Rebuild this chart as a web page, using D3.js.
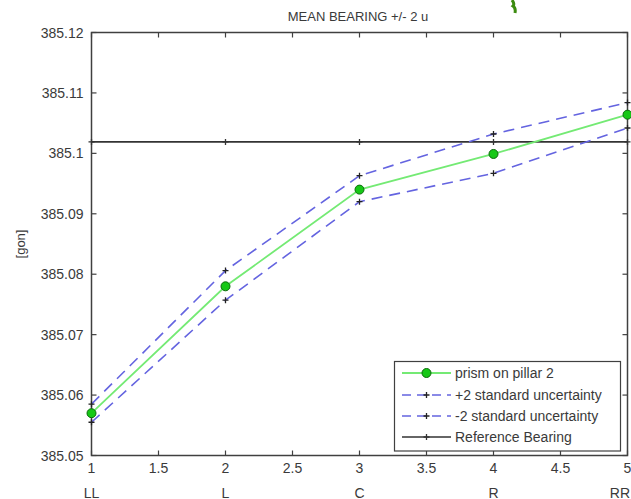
<!DOCTYPE html>
<html lang="en">
<head>
<meta charset="UTF-8">
<title>Mean bearing +/- 2 u</title>
<script src="https://d3js.org/d3.v7.min.js"></script>
<style>
body { margin: 0; background: #fff; }
text { font-family: "Liberation Sans", Arial, sans-serif; fill: #3a3a3a; }
</style>
</head>
<body>
<div id="chart"></div>
<script>
// values
const xs = [1, 2, 3, 4, 5];
const stations = ["LL", "L", "C", "R", "RR"];
const prism = [385.0570, 385.0780, 385.0940, 385.0999, 385.1064];
const upper = [385.0585, 385.0806, 385.0963, 385.1032, 385.1084];
const lower = [385.0555, 385.0757, 385.0920, 385.0967, 385.1042];
const refBearing = 385.1019;
const xTicks = [1, 1.5, 2, 2.5, 3, 3.5, 4, 4.5, 5];
const yTicks = [385.05, 385.06, 385.07, 385.08, 385.09, 385.1, 385.11, 385.12];
const legendLabels = ["prism on pillar 2", "+2 standard uncertainty", "-2 standard uncertainty", "Reference Bearing"];

const width = 631, height = 499;
const m = {left: 91.5, right: 3.5, top: 32.5, bottom: 43.5};

const svg = d3.select("#chart").append("svg")
    .attr("width", width)
    .attr("height", height);

const x = d3.scaleLinear().domain([1, 5]).range([m.left, width - m.right]);
const y = d3.scaleLinear().domain([385.05, 385.12]).range([height - m.bottom, m.top]);

const axisColor = "#404040";
const fmt = v => String(+v.toFixed(2));

// box + inward ticks (matlab style)
const box = svg.append("g");
box.append("rect")
    .attr("x", x(1)).attr("y", y(385.12))
    .attr("width", x(5) - x(1)).attr("height", y(385.05) - y(385.12))
    .attr("fill", "none").attr("stroke", axisColor).attr("stroke-width", 1.5);

xTicks.forEach(t => {
    box.append("line").attr("x1", x(t)).attr("x2", x(t))
        .attr("y1", y(385.05)).attr("y2", y(385.05) - 5)
        .attr("stroke", axisColor).attr("stroke-width", 1.2);
    box.append("line").attr("x1", x(t)).attr("x2", x(t))
        .attr("y1", y(385.12)).attr("y2", y(385.12) + 5)
        .attr("stroke", axisColor).attr("stroke-width", 1.2);
});
yTicks.forEach(t => {
    box.append("line").attr("x1", x(1)).attr("x2", x(1) + 5)
        .attr("y1", y(t)).attr("y2", y(t))
        .attr("stroke", axisColor).attr("stroke-width", 1.2);
    box.append("line").attr("x1", x(5)).attr("x2", x(5) - 5)
        .attr("y1", y(t)).attr("y2", y(t))
        .attr("stroke", axisColor).attr("stroke-width", 1.2);
});

// tick labels
svg.append("g").selectAll("text").data(xTicks).join("text")
    .attr("x", d => x(d)).attr("y", y(385.05) + 17)
    .attr("text-anchor", "middle").attr("font-size", 14)
    .text(fmt);
// station names; the last one is pulled in so it stays on the page
svg.append("g").selectAll("text").data(xs).join("text")
    .attr("x", (d, i) => i === xs.length - 1 ? width - 1 : x(d))
    .attr("y", y(385.05) + 42)
    .attr("text-anchor", (d, i) => i === xs.length - 1 ? "end" : "middle")
    .attr("font-size", 14)
    .text((d, i) => stations[i]);
svg.append("g").selectAll("text").data(yTicks).join("text")
    .attr("x", x(1) - 8).attr("y", d => y(d) + 5)
    .attr("text-anchor", "end").attr("font-size", 14)
    .text(fmt);

svg.append("text")
    .attr("transform", `translate(25,244) rotate(-90)`)
    .attr("text-anchor", "middle").attr("font-size", 13)
    .text("[gon]");

svg.append("text")
    .attr("x", 358).attr("y", 21)
    .attr("text-anchor", "middle").attr("font-size", 13)
    .text("MEAN BEARING +/- 2 u");

// little green scribble at the top edge of the picture
svg.append("path")
    .attr("d", "M512,0 Q515,4 513,6 Q516,8 515,13")
    .attr("fill", "none").attr("stroke", "#3c8c10").attr("stroke-width", 3);

const line = d3.line().x(d => x(d[0])).y(d => y(d[1]));
const plus = (g, px, py, s, col) => {
    g.append("path")
        .attr("d", `M${px - s},${py}H${px + s}M${px},${py - s}V${py + s}`)
        .attr("stroke", col).attr("stroke-width", 1.3);
};

const plot = svg.append("g");

// reference bearing
const refPts = xs.map(v => [v, refBearing]);
plot.append("path").attr("d", line(refPts))
    .attr("fill", "none").attr("stroke", "#333").attr("stroke-width", 1.6);
refPts.forEach(p => plus(plot, x(p[0]), y(p[1]), 3, "#333"));

// uncertainty bands
[upper, lower].forEach(series => {
    const pts = xs.map((v, i) => [v, series[i]]);
    plot.append("path").attr("d", line(pts))
        .attr("fill", "none").attr("stroke", "#6464e0").attr("stroke-width", 1.6)
        .attr("stroke-dasharray", "11,7");
    pts.forEach(p => plus(plot, x(p[0]), y(p[1]), 3, "#222"));
});

// main series
const mainPts = xs.map((v, i) => [v, prism[i]]);
plot.append("path").attr("d", line(mainPts))
    .attr("fill", "none").attr("stroke", "#74ea74").attr("stroke-width", 1.8);
plot.selectAll("circle.pt").data(mainPts).join("circle")
    .attr("class", "pt")
    .attr("cx", d => x(d[0])).attr("cy", d => y(d[1])).attr("r", 4.5)
    .attr("fill", "#16c816").attr("stroke", "#0a6a0a").attr("stroke-width", 1);

// legend
const lg = svg.append("g");
lg.append("rect")
    .attr("x", 394.5).attr("y", 361.5).attr("width", 226).attr("height", 89.5)
    .attr("fill", "#fff").attr("stroke", axisColor).attr("stroke-width", 1.2);
const rowY = [373, 395, 416, 437];
legendLabels.forEach((lab, i) => {
    const yy = rowY[i];
    const ln = lg.append("line").attr("x1", 402).attr("x2", 451)
        .attr("y1", yy).attr("y2", yy);
    if (i === 0) {
        ln.attr("stroke", "#74ea74").attr("stroke-width", 1.8);
        lg.append("circle").attr("cx", 426.5).attr("cy", yy).attr("r", 4.5)
            .attr("fill", "#16c816").attr("stroke", "#0a6a0a");
    } else if (i < 3) {
        ln.attr("stroke", "#6464e0").attr("stroke-width", 1.6).attr("stroke-dasharray", "9,6");
        plus(lg, 426.5, yy, 3, "#222");
    } else {
        ln.attr("stroke", "#333").attr("stroke-width", 1.4);
        plus(lg, 426.5, yy, 3, "#333");
    }
    lg.append("text").attr("x", 455).attr("y", yy + 5)
        .attr("font-size", 14).text(lab);
});
</script>
</body>
</html>
